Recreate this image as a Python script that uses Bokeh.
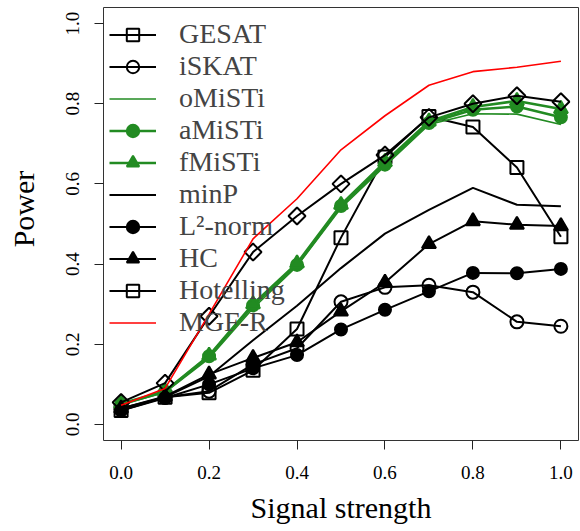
import math

from bokeh.embed import file_html
from bokeh.models import FixedTicker, Legend, LegendItem, NumeralTickFormatter
from bokeh.plotting import figure
from bokeh.resources import INLINE

# Signal strength levels (x axis)
signal = [0.0, 0.1, 0.2, 0.3, 0.4, 0.5, 0.6, 0.7, 0.8, 0.9, 1.0]

# Empirical power of each test
gesat = [0.035, 0.068, 0.079, 0.135, 0.238, 0.466, 0.667, 0.768, 0.742, 0.641, 0.468]
iskat = [0.038, 0.068, 0.083, 0.150, 0.190, 0.306, 0.342, 0.347, 0.330, 0.256, 0.245]
omisti = [0.050, 0.080, 0.165, 0.290, 0.395, 0.540, 0.645, 0.748, 0.775, 0.774, 0.748]
amisti = [0.050, 0.082, 0.170, 0.297, 0.398, 0.545, 0.648, 0.752, 0.785, 0.793, 0.766]
fmisti = [0.052, 0.083, 0.172, 0.300, 0.402, 0.548, 0.655, 0.756, 0.792, 0.807, 0.787]
minp = [0.040, 0.068, 0.120, 0.210, 0.296, 0.390, 0.476, 0.535, 0.590, 0.548, 0.544]
l2norm = [0.035, 0.066, 0.100, 0.140, 0.173, 0.237, 0.286, 0.332, 0.378, 0.377, 0.388]
hc = [0.040, 0.070, 0.125, 0.166, 0.205, 0.282, 0.354, 0.450, 0.507, 0.498, 0.495]
hotelling = [0.055, 0.103, 0.270, 0.430, 0.520, 0.600, 0.672, 0.766, 0.800, 0.820, 0.805]
mgfr = [0.048, 0.090, 0.275, 0.463, 0.563, 0.685, 0.770, 0.846, 0.880, 0.891, 0.906]

tick_values = [0.0, 0.2, 0.4, 0.6, 0.8, 1.0]

FONT = "Liberation Serif"
GREEN = "#228B22"

p = figure(
    width=580, height=531,
    x_range=(-0.04, 1.04), y_range=(-0.04, 1.04),
    output_backend="svg", toolbar_location=None,
    min_border_left=103, min_border_right=2,
    min_border_top=7, min_border_bottom=91,
)
p.grid.visible = False
p.background_fill_color = "white"
p.outline_line_color = "#333333"
p.outline_line_width = 1

for ax in (p.xaxis[0], p.yaxis[0]):
    ax.ticker = FixedTicker(ticks=tick_values)
    ax.formatter = NumeralTickFormatter(format="0.0")
    ax.axis_line_color = None
    ax.major_tick_in = 0
    ax.major_tick_out = 9
    ax.major_tick_line_color = "#222222"
    ax.minor_tick_line_color = None
    ax.major_label_text_font = FONT
    ax.major_label_text_font_size = "19px"
    ax.major_label_text_color = "black"
    ax.axis_label_text_font = FONT
    ax.axis_label_text_font_style = "normal"
    ax.axis_label_text_font_size = "30px"
    ax.axis_label_text_color = "black"

p.xaxis.major_label_standoff = 16
p.yaxis.major_label_standoff = 15
p.yaxis.major_label_orientation = "vertical"

p.xaxis.axis_label = "Signal strength"
p.xaxis.axis_label_standoff = 9

# leading no-break spaces lift the title a little above the frame's centre
p.yaxis.axis_label = "\u00a0\u00a0\u00a0\u00a0Power"
p.yaxis.axis_label_standoff = 24


def series(ys, color, lw, marker=None, size=12, filled=False, angle=0.0):
    rs = [p.line(signal, ys, line_color=color, line_width=lw)]
    if marker is not None:
        rs.append(p.scatter(
            signal, ys, marker=marker, size=size, angle=angle,
            line_color=color, line_width=2,
            fill_color=color if filled else None,
        ))
    return rs


items = [
    ("GESAT", series(gesat, "black", 2, "square", 13)),
    ("iSKAT", series(iskat, "black", 2, "circle", 13)),
    ("oMiSTi", series(omisti, GREEN, 1.6)),
    ("aMiSTi", series(amisti, GREEN, 2.6, "circle", 12, filled=True)),
    ("fMiSTi", series(fmisti, GREEN, 2.6, "triangle", 14, filled=True)),
    ("minP", series(minp, "black", 2)),
    ("L²-norm", series(l2norm, "black", 2, "circle", 12, filled=True)),
    ("HC", series(hc, "black", 2, "triangle", 14, filled=True)),
    ("Hotelling", series(hotelling, "black", 2, "square", 12, angle=math.pi / 4)),
    ("MGF-R", series(mgfr, "red", 1.6)),
]

legend = Legend(
    items=[LegendItem(label=name, renderers=rs) for name, rs in items],
    location=(6, 102),
    padding=0, margin=0, spacing=0,
    label_height=31, glyph_height=31, glyph_width=47,
    label_standoff=23,
    label_text_font=FONT, label_text_font_size="28px",
    background_fill_alpha=0, border_line_color=None,
)
p.add_layout(legend)

open("out.html", "w").write(file_html(p, INLINE))
